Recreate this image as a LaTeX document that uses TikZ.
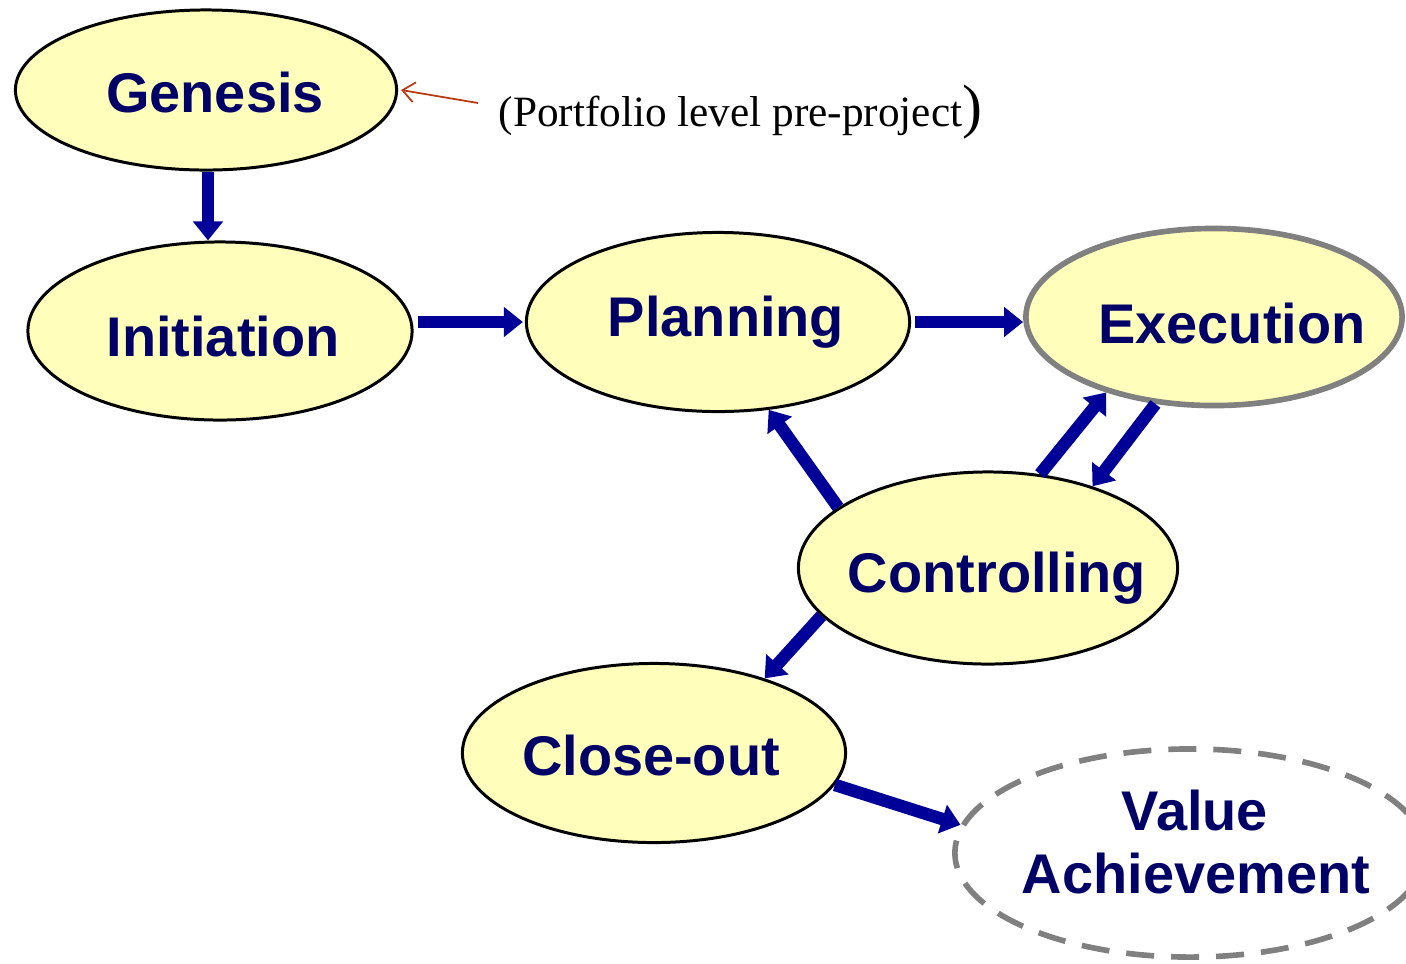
\documentclass[tikz,border=0pt]{standalone}
\usepackage{fontspec}
\setmainfont{Liberation Serif}
\newfontfamily\lsans{Liberation Sans}
\usetikzlibrary{arrows.meta,shapes.geometric}
\definecolor{phasefill}{HTML}{FFFFBB}
\definecolor{phasetext}{HTML}{000066}
\definecolor{flowblue}{HTML}{000099}
\definecolor{ringgray}{HTML}{808080}
\definecolor{notered}{HTML}{B83A14}
\tikzset{
  phase/.style={ellipse, draw=black, line width=0.85pt, fill=phasefill, inner sep=0pt},
  ptext/.style={anchor=base, text=phasetext, font=\lsans\bfseries\fontsize{15.9pt}{18pt}\selectfont, inner sep=0pt},
  flow/.style={draw=flowblue, line width=0.125cm, -{Triangle[length=0.19cm,width=0.29cm]}},
  note/.style={draw=notered, line width=0.5pt, -{Straight Barb[length=0.12cm,width=0.2cm]}}
}
\begin{document}
\begin{tikzpicture}[x=0.01cm,y=-0.01cm]
\clip (0,0) rectangle (1406,963);
\useasboundingbox (0,0) rectangle (1406,963);
% ellipses
\node[phase, minimum width=3.81cm, minimum height=1.6cm] (gen) at (206,90) {};
\node[phase, minimum width=3.84cm, minimum height=1.78cm] (ini) at (220,331) {};
\node[phase, minimum width=3.83cm, minimum height=1.79cm] (pla) at (718,322) {};
\node[ellipse, draw=ringgray, line width=1.6pt, fill=phasefill, inner sep=0pt, minimum width=3.76cm, minimum height=1.77cm] (exe) at (1214,317) {};
\node[phase, minimum width=3.79cm, minimum height=1.92cm] (ctl) at (988,568) {};
\node[phase, minimum width=3.83cm, minimum height=1.79cm] (clo) at (654,753) {};
\node[ellipse, draw=ringgray, line width=1.6pt, dash pattern=on 0.28cm off 0.17cm, inner sep=0pt, minimum width=4.7cm, minimum height=2.08cm] (val) at (1190,853) {};
% labels
\node[ptext] (tgen) at (215,112) {Genesis};
\node[ptext] (tini) at (223,356) {Initiation};
\node[ptext] (tpla) at (726,336) {Planning};
\node[ptext] (texe) at (1232,343) {Execution};
\node[ptext] (tctl) at (997,592) {Controlling};
\node[ptext] (tclo) at (651,775) {Close-out};
\node[ptext] (tval1) at (1195,830) {Value};
\node[ptext] (tval2) at (1196,893) {Achievement};
% annotation
\node[anchor=base west, inner sep=0pt, font=\fontsize{12.3pt}{14pt}\selectfont] (port) at (498,126) {(Portfolio level pre-project{\fontsize{17pt}{18pt}\selectfont)}};
\coordinate (ptail) at (478,103);
\draw[note] (ptail) -- ([xshift=0.03cm]gen.east);
% flows
\draw[flow] ([xshift=0.02cm]gen.south) -- ([xshift=0.02cm]gen.south |- ini.north);
\draw[flow, shorten <=0.04cm, shorten >=0.02cm] (ini.east |- pla.west) -- (pla.west);
\draw[flow, shorten <=0.04cm] (pla.east) -- (exe.west |- pla.east);
\draw[flow] (ctl.158.6) -- (pla.300.6);
\draw[flow] (ctl.61.6) -- (exe.215.7);
\draw[flow] (exe.236) -- (ctl.38.5);
\draw[flow] (ctl.196.7) -- (clo.34.6);
\draw[flow] (clo.350) -- (val.173.5);
\end{tikzpicture}
\end{document}
